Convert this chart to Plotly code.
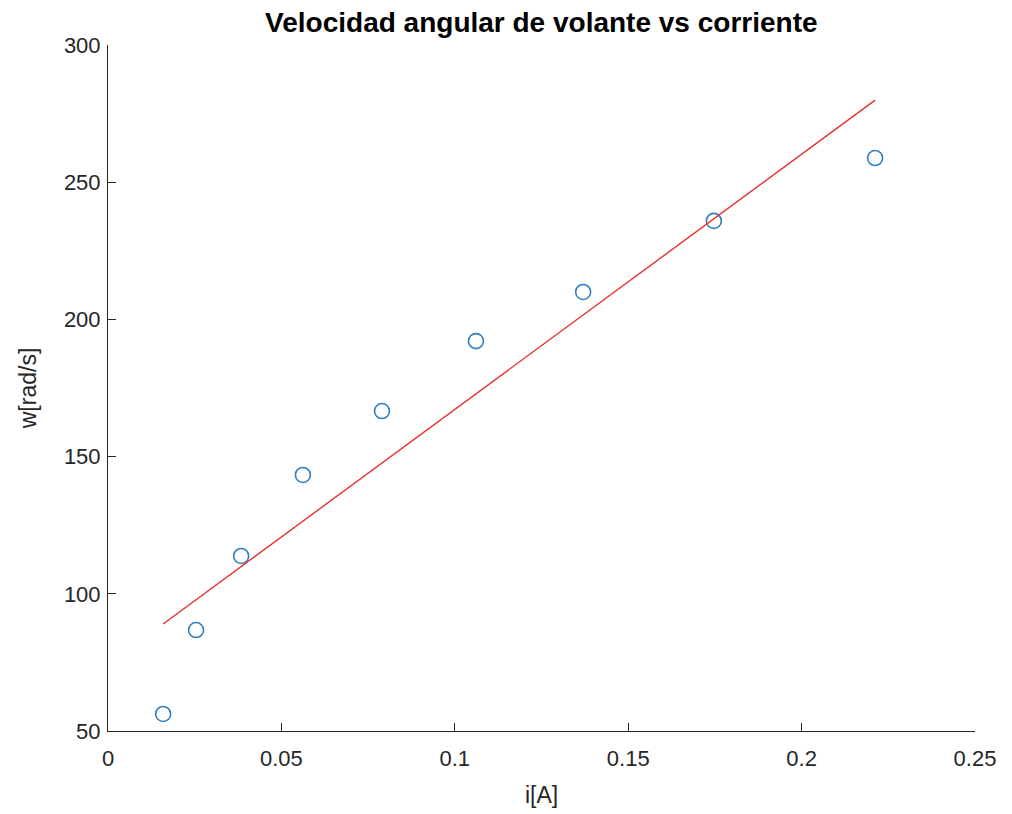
import plotly.graph_objects as go

# Data
corriente = [0.0159, 0.0254, 0.0384, 0.0562, 0.0790, 0.1061, 0.1370, 0.1747, 0.2212]
velocidad = [56.2, 86.8, 113.8, 143.3, 166.6, 192.1, 210.0, 235.9, 258.8]
ajuste_x = [0.0159, 0.2212]
ajuste_y = [89.0, 279.9]

FONT = "Liberation Sans, Arial"

fig = go.Figure()
fig.add_trace(go.Scatter(
    x=corriente, y=velocidad, mode="markers",
    marker=dict(symbol="circle-open", size=15, color="#2F7FC1", line=dict(width=1.6)),
    showlegend=False,
))
fig.add_trace(go.Scatter(
    x=ajuste_x, y=ajuste_y, mode="lines",
    line=dict(color="#E8302A", width=1.4),
    showlegend=False,
))

axis_common = dict(
    showgrid=False, zeroline=False, showline=True, linecolor="#262626", linewidth=1,
    ticks="inside", ticklen=8, tickcolor="#262626", tickwidth=1,
    tickfont=dict(family=FONT, size=22, color="#262626"),
    mirror=False,
)

fig.update_layout(
    width=1012, height=814,
    paper_bgcolor="white", plot_bgcolor="white",
    margin=dict(l=100, r=45, t=37, b=91),
    title=dict(text="<b>Velocidad angular de volante vs corriente</b>",
               x=0.527, xanchor="center", y=0.982, yanchor="middle",
               font=dict(family=FONT, size=28, color="black")),
    xaxis=dict(range=[0, 0.25], tickvals=[0, 0.05, 0.1, 0.15, 0.2, 0.25],
               ticktext=["0", "0.05", "0.1", "0.15", "0.2", "0.25"],
               ticklabelstandoff=8,
               title=dict(text="i[A]", font=dict(family=FONT, size=23, color="#262626"), standoff=16),
               **axis_common),
    yaxis=dict(range=[50, 300], tickvals=[50, 100, 150, 200, 250, 300],
               ticklabelstandoff=2,
               title=dict(text="w[rad/s]", font=dict(family=FONT, size=23, color="#262626"), standoff=20),
               **axis_common),
)

fig.write_html("out.html")
